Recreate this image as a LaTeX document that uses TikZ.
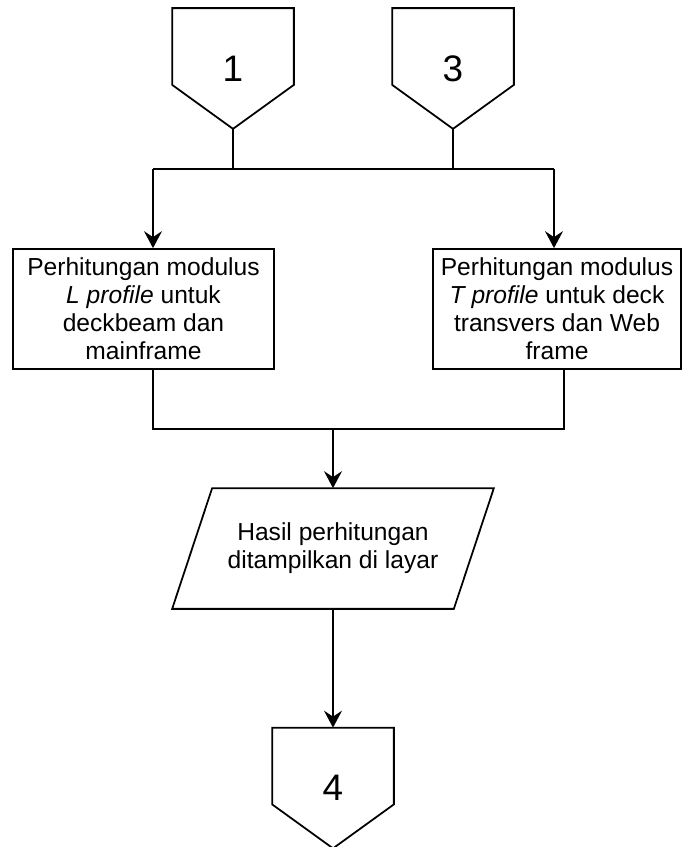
\documentclass[tikz,border=0pt]{standalone}
\usepackage{fontspec}
\setmainfont{Liberation Sans}
\usetikzlibrary{arrows.meta}

\begin{document}
\begin{tikzpicture}[x=0.02cm,y=-0.02cm,line width=1pt,
  conn/.style={inner sep=0pt,minimum width=2.4cm,minimum height=2.38cm,font=\fontsize{21}{24}\selectfont},
  proc/.style={draw,rectangle,inner sep=2pt,minimum height=2.4cm,align=center,font=\fontsize{14}{15.9}\selectfont},
  io/.style={rectangle,minimum height=2.38cm,minimum width=6.4cm,inner sep=0pt,align=center,font=\fontsize{14}{15.9}\selectfont},
  flow/.style={-{Stealth[length=3.4mm,width=3.6mm,inset=1.2mm]}}
]
  \useasboundingbox (0,0) rectangle (682,847);
  % off-page connectors
  \node[conn] (c1) at (233,68.5) {1};
  \node[conn] (c3) at (453,68.5) {3};
  \node[conn] (c4) at (333,788)  {4};
  \foreach \c in {c1,c3,c4}
    \draw (\c.north west) -- (\c.north east) -- ([yshift=0.88cm]\c.south east)
      -- (\c.south) -- ([yshift=0.88cm]\c.south west) -- cycle;

  % processes
  \node[proc,minimum width=5.22cm] (lbox) at (143.5,309)
    {Perhitungan modulus\\\textit{L profile} untuk\\deckbeam dan\\mainframe};
  \node[proc,minimum width=4.96cm] (rbox) at (557,309)
    {Perhitungan modulus\\\textit{T profile} untuk deck\\transvers dan Web\\frame};
  \node[io] (hasil) at (333,548.5) {Hasil perhitungan\\ditampilkan di layar};
  \draw (hasil.south west) -- ([xshift=0.8cm]hasil.north west) -- (hasil.north east)
    -- ([xshift=-0.8cm]hasil.south east) -- cycle;

  % junctions
  \coordinate (jl) at (153,169);
  \coordinate (jr) at (554,169);
  \coordinate (bl) at (153,429);
  \coordinate (br) at (564,429);
  \coordinate (jm) at (333,429);

  \draw (c1.south) |- (jl);
  \draw (c3.south) |- (jr);
  \draw (jl) -- (jr);
  \draw[flow] (jl) -- (jl |- lbox.north);
  \draw[flow] (jr) -- (jr |- rbox.north);
  \draw (bl |- lbox.south) -- (bl) -- (br) -- (br |- rbox.south);
  \draw[flow] (jm) -- (hasil.north);
  \draw[flow] (hasil.south) -- (c4.north);
\end{tikzpicture}
\end{document}
